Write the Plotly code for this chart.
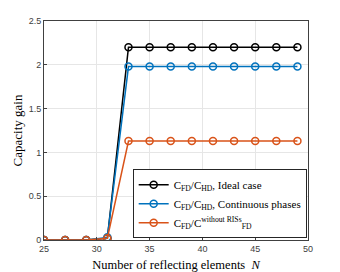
import plotly.graph_objects as go

N = [25, 27, 29, 31, 33, 35, 37, 39, 41, 43, 45, 47, 49]
ideal = [0, 0, 0, 0.02, 2.2, 2.2, 2.2, 2.2, 2.2, 2.2, 2.2, 2.2, 2.2]
continuous = [0, 0, 0, 0.03, 1.98, 1.98, 1.98, 1.98, 1.98, 1.98, 1.98, 1.98, 1.98]
no_ris = [0, 0, 0, 0.02, 1.13, 1.13, 1.13, 1.13, 1.13, 1.13, 1.13, 1.13, 1.13]

names = [
    "C<sub>FD</sub>/C<sub>HD</sub>, Ideal case",
    "C<sub>FD</sub>/C<sub>HD</sub>, Continuous phases",
    "C<sub>FD</sub>/C<sup>without RISs</sup><sub>FD</sub>",
]
colors = ["#000000", "#0072BD", "#D95319"]
series = [ideal, continuous, no_ris]

fig = go.Figure()
for s, nm, c in zip(series, names, colors):
    fig.add_trace(go.Scatter(
        x=N, y=s, name=nm, mode="lines+markers",
        line=dict(color=c, width=1.5),
        marker=dict(symbol="circle-open", size=7, color=c, line=dict(width=1.5, color=c)),
    ))

axis_common = dict(
    showgrid=True, gridcolor="#e6e6e6", gridwidth=1,
    showline=True, linecolor="#404040", linewidth=1, mirror=True,
    ticks="inside", ticklen=3, tickcolor="#404040",
    tickfont=dict(family="Liberation Sans", size=9, color="#404040"),
    zeroline=False, automargin=False,
)

fig.update_layout(
    width=340, height=272,
    margin=dict(l=44, r=32, t=21, b=32),
    paper_bgcolor="white", plot_bgcolor="white",
    font=dict(family="Liberation Serif", size=11, color="#000000"),
    xaxis=dict(range=[25, 50], tickvals=[25, 30, 35, 40, 45, 50],
               title=dict(text="Number of reflecting elements  <i>N</i>", standoff=7,
                          font=dict(family="Liberation Serif", size=12.5)),
               **axis_common),
    yaxis=dict(range=[0, 2.5], tickvals=[0, 0.5, 1, 1.5, 2, 2.5],
               ticktext=["0", "0.5", "1", "1.5", "2", "2.5"],
               title=dict(text="Capacity gain", standoff=3,
                          font=dict(family="Liberation Serif", size=13)),
               **axis_common),
    legend=dict(x=0.995, xanchor="right", y=0.008, yanchor="bottom",
                bgcolor="white", bordercolor="#262626", borderwidth=1,
                font=dict(family="Liberation Serif", size=11),
                tracegroupgap=0, itemwidth=30),
    showlegend=True,
)

fig.write_html("out.html", config={"displayModeBar": False},
               post_script="document.body.style.margin='0';")
